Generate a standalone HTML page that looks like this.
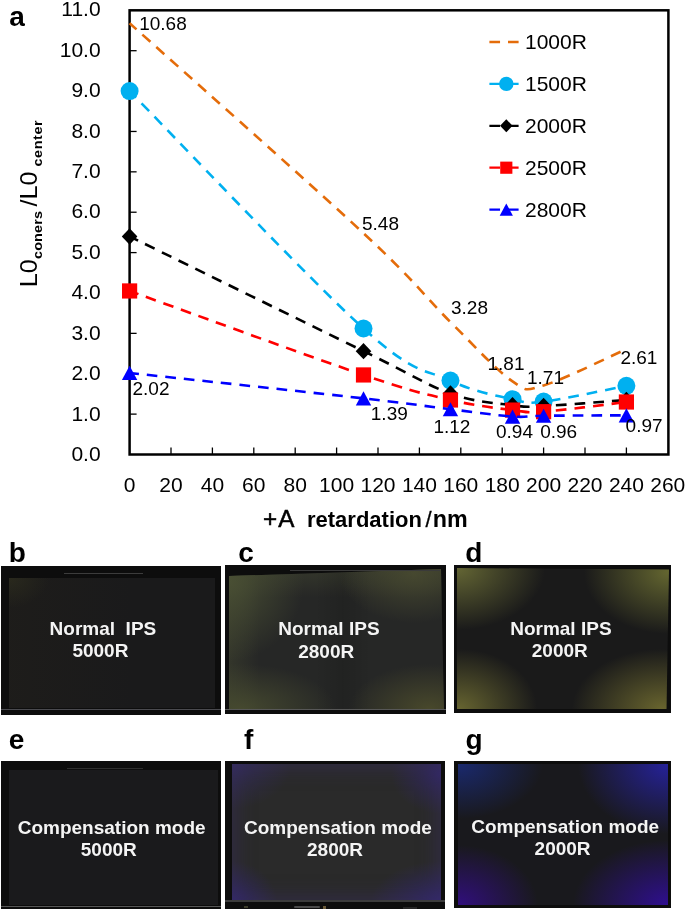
<!DOCTYPE html>
<html><head><meta charset="utf-8"><style>
html,body{margin:0;padding:0;background:#fff;}
body{width:685px;height:909px;position:relative;overflow:hidden;font-family:"Liberation Sans",sans-serif;}
svg{position:absolute;left:0;top:0;z-index:2;will-change:transform;}
svg text{font-family:"Liberation Sans",sans-serif;}
.ph{position:absolute;background:#0d0d0d;overflow:hidden;z-index:1;}
.scr{position:absolute;}
.hl{position:absolute;}

#sb{left:8px;top:12px;width:206px;height:130px;background:radial-gradient(ellipse 40px 30px at 0px 0px, rgba(46,46,30,.7), rgba(46,46,30,0)), linear-gradient(90deg, rgba(32,30,26,.6), rgba(32,30,26,0) 60%), #1a1a1b;}
#sc{left:4px;top:4px;width:215px;height:140px;clip-path:polygon(0 7px,212px 0,215px 140px,0 140px);
 background:
  radial-gradient(ellipse 75px 80px at 0px 12px, rgba(74,80,52,.95), rgba(74,80,52,0)),
  radial-gradient(ellipse 75px 50px at 185px 4px, rgba(72,74,48,.9), rgba(72,74,48,0)),
  radial-gradient(ellipse 95px 45px at 12px 140px, rgba(72,76,48,.9), rgba(72,76,48,0)),
  radial-gradient(ellipse 80px 45px at 200px 140px, rgba(76,76,44,.9), rgba(76,76,44,0)),
  linear-gradient(90deg, rgba(0,0,0,0) 40%, rgba(0,0,0,.12) 53%, rgba(0,0,0,0) 66%),
  linear-gradient(180deg, rgba(70,74,50,.45) 0px, rgba(70,74,50,0) 28px),
  linear-gradient(90deg, rgba(72,76,50,.4) 0px, rgba(72,76,50,0) 30px),
  #262726;}
#sd{left:2.5px;top:3px;width:213px;height:141px;clip-path:polygon(0 0,212.5px 1.5px,210px 141px,0 141px);
 background:
  radial-gradient(ellipse 88px 62px at 0px 0px, rgba(100,102,52,1), rgba(100,102,52,0)),
  radial-gradient(ellipse 85px 62px at 212px 4px, rgba(100,102,48,1), rgba(100,102,48,0)),
  radial-gradient(ellipse 78px 60px at 2px 141px, rgba(102,100,48,1), rgba(102,100,48,0)),
  radial-gradient(ellipse 90px 60px at 205px 141px, rgba(104,100,46,1), rgba(104,100,46,0)),
  #1a1a1a;}
#se{left:8px;top:9px;width:209px;height:135px;background:#1a1a1c;}
#sf{left:7px;top:3px;width:209px;height:137px;
 box-shadow: inset 0 0 22px rgba(58,46,112,.55);
 background:
  radial-gradient(ellipse 60px 45px at 0px 0px, rgba(52,44,100,.7), rgba(52,44,100,0)),
  radial-gradient(ellipse 50px 40px at 209px 10px, rgba(50,38,110,.75), rgba(50,38,110,0)),
  radial-gradient(ellipse 45px 40px at 0px 137px, rgba(50,38,115,.75), rgba(50,38,115,0)),
  radial-gradient(ellipse 70px 40px at 209px 137px, rgba(50,38,115,.8), rgba(50,38,115,0)),
  #2a2a2a;}
#sg{left:4px;top:2.5px;width:210px;height:141px;
 background:
  radial-gradient(ellipse 85px 55px at 0px 0px, rgba(26,42,115,.95), rgba(26,42,115,0)),
  radial-gradient(ellipse 90px 70px at 210px 0px, rgba(38,34,160,.95), rgba(38,34,160,0)),
  radial-gradient(ellipse 80px 60px at 0px 141px, rgba(50,14,130,.95), rgba(50,14,130,0)),
  radial-gradient(ellipse 95px 65px at 210px 141px, rgba(48,14,150,.95), rgba(48,14,150,0)),
  #19191d;}

</style></head><body>

<div class="ph" style="left:1px;top:566px;width:220px;height:149px;">
  <div class="scr" id="sb"></div>
  <div class="hl" style="left:0;top:143px;width:220px;height:1.3px;background:#5a5a60;opacity:.8"></div>
  <div class="hl" style="left:63px;top:7.3px;width:79px;height:1px;background:#3c3c3c;"></div>
</div>
<div class="ph" style="left:225px;top:565px;width:221px;height:149px;">
  <div class="scr" id="sc"></div>
  <div class="hl" style="left:0;top:144px;width:221px;height:1.3px;background:#6a6a6a;opacity:.8"></div>
  <div class="hl" style="left:65px;top:5px;width:150px;height:1px;background:#3a3a3a;"></div>
</div>
<div class="ph" style="left:454px;top:565px;width:217px;height:148px;">
  <div class="scr" id="sd"></div>
</div>
<div class="ph" style="left:1px;top:760.5px;width:220px;height:148.5px;">
  <div class="scr" id="se"></div>
  <div class="hl" style="left:0;top:145px;width:220px;height:1.3px;background:#6a6a6a;opacity:.8"></div>
  <div class="hl" style="left:66px;top:7px;width:76px;height:1px;background:#2e2e2e;"></div>
</div>
<div class="ph" style="left:225px;top:760.5px;width:220px;height:148.5px;">
  <div class="scr" id="sf"></div>
  <div class="hl" style="left:0;top:139.5px;width:220px;height:1.5px;background:#3c3c3c;"></div>
  <div class="hl" style="left:69px;top:145.5px;width:26px;height:2px;background:#4a4a4a;border-radius:1px"></div>
  <div class="hl" style="left:98px;top:145px;width:3px;height:3px;background:#6a5a38;"></div>
  <div class="hl" style="left:19px;top:145.5px;width:4px;height:2px;background:#3e3e2c;"></div>
  <div class="hl" style="left:178px;top:146px;width:14px;height:2px;background:#262626;"></div>
</div>
<div class="ph" style="left:454px;top:761px;width:217px;height:147px;">
  <div class="scr" id="sg"></div>
</div>

<svg width="685" height="909" viewBox="0 0 685 909">
<g stroke="#000" fill="none">
<line x1="129.60" y1="414.12" x2="136.60" y2="414.12" stroke-width="1.3"/>
<line x1="129.60" y1="373.74" x2="136.60" y2="373.74" stroke-width="1.3"/>
<line x1="129.60" y1="333.36" x2="136.60" y2="333.36" stroke-width="1.3"/>
<line x1="129.60" y1="292.98" x2="136.60" y2="292.98" stroke-width="1.3"/>
<line x1="129.60" y1="252.60" x2="136.60" y2="252.60" stroke-width="1.3"/>
<line x1="129.60" y1="212.22" x2="136.60" y2="212.22" stroke-width="1.3"/>
<line x1="129.60" y1="171.84" x2="136.60" y2="171.84" stroke-width="1.3"/>
<line x1="129.60" y1="131.46" x2="136.60" y2="131.46" stroke-width="1.3"/>
<line x1="129.60" y1="91.08" x2="136.60" y2="91.08" stroke-width="1.3"/>
<line x1="129.60" y1="50.70" x2="136.60" y2="50.70" stroke-width="1.3"/>
<line x1="171.00" y1="454.50" x2="171.00" y2="447.50" stroke-width="1.3"/>
<line x1="212.40" y1="454.50" x2="212.40" y2="447.50" stroke-width="1.3"/>
<line x1="253.80" y1="454.50" x2="253.80" y2="447.50" stroke-width="1.3"/>
<line x1="295.20" y1="454.50" x2="295.20" y2="447.50" stroke-width="1.3"/>
<line x1="336.60" y1="454.50" x2="336.60" y2="447.50" stroke-width="1.3"/>
<line x1="378.00" y1="454.50" x2="378.00" y2="447.50" stroke-width="1.3"/>
<line x1="419.40" y1="454.50" x2="419.40" y2="447.50" stroke-width="1.3"/>
<line x1="460.80" y1="454.50" x2="460.80" y2="447.50" stroke-width="1.3"/>
<line x1="502.20" y1="454.50" x2="502.20" y2="447.50" stroke-width="1.3"/>
<line x1="543.60" y1="454.50" x2="543.60" y2="447.50" stroke-width="1.3"/>
<line x1="585.00" y1="454.50" x2="585.00" y2="447.50" stroke-width="1.3"/>
<line x1="626.40" y1="454.50" x2="626.40" y2="447.50" stroke-width="1.3"/>
<rect x="129.60" y="10.32" width="538.80" height="444.18" stroke-width="2.5"/>
</g>
<g font-size="21" fill="#000" text-anchor="end">
<text x="100.6" y="461.30">0.0</text>
<text x="100.6" y="420.83">1.0</text>
<text x="100.6" y="380.36">2.0</text>
<text x="100.6" y="339.89">3.0</text>
<text x="100.6" y="299.42">4.0</text>
<text x="100.6" y="258.95">5.0</text>
<text x="100.6" y="218.48">6.0</text>
<text x="100.6" y="178.01">7.0</text>
<text x="100.6" y="137.54">8.0</text>
<text x="100.6" y="97.07">9.0</text>
<text x="100.6" y="56.60">10.0</text>
<text x="100.6" y="16.13">11.0</text>
</g>
<g font-size="21" fill="#000" text-anchor="middle">
<text x="129.60" y="492.4">0</text>
<text x="171.00" y="492.4">20</text>
<text x="212.40" y="492.4">40</text>
<text x="253.80" y="492.4">60</text>
<text x="295.20" y="492.4">80</text>
<text x="336.60" y="492.4">100</text>
<text x="378.00" y="492.4">120</text>
<text x="419.40" y="492.4">140</text>
<text x="460.80" y="492.4">160</text>
<text x="502.20" y="492.4">180</text>
<text x="543.60" y="492.4">200</text>
<text x="585.00" y="492.4">220</text>
<text x="626.40" y="492.4">240</text>
<text x="667.80" y="492.4">260</text>
</g>
<path d="M129.60,23.24 C168.58,58.24 310.04,183.42 363.51,233.22 C416.98,283.02 425.61,297.35 450.45,322.05 C475.29,346.75 497.02,370.85 512.55,381.41 C528.07,391.98 524.62,390.83 543.60,385.45 C562.57,380.07 612.60,355.17 626.40,349.11" fill="none" stroke="#E46C0A" stroke-width="2.60" stroke-dasharray="10.64 7.98" stroke-dashoffset="1.2"/>
<path d="M129.60,91.08 C168.58,130.65 310.04,280.26 363.51,328.51 C416.98,376.77 425.61,368.83 450.45,380.60 C475.29,392.38 497.02,395.68 512.55,399.18 C528.07,402.68 524.62,403.82 543.60,401.60 C562.57,399.38 612.60,388.48 626.40,385.85" fill="none" stroke="#00B0F0" stroke-width="2.60" stroke-dasharray="10.64 7.98" stroke-dashoffset="1.2"/>
<circle cx="129.60" cy="91.08" r="9.00" fill="#00B0F0"/>
<circle cx="363.51" cy="328.51" r="9.00" fill="#00B0F0"/>
<circle cx="450.45" cy="380.60" r="9.00" fill="#00B0F0"/>
<circle cx="512.55" cy="399.18" r="9.00" fill="#00B0F0"/>
<circle cx="543.60" cy="401.60" r="9.00" fill="#00B0F0"/>
<circle cx="626.40" cy="385.85" r="9.00" fill="#00B0F0"/>
<path d="M129.60,236.45 C168.58,255.56 310.04,324.95 363.51,351.13 C416.98,377.31 425.61,384.51 450.45,393.53 C475.29,402.54 497.02,403.15 512.55,405.24 C528.07,407.32 524.62,406.92 543.60,406.04 C562.57,405.17 612.60,401.00 626.40,399.99" fill="none" stroke="#000000" stroke-width="2.60" stroke-dasharray="10.64 7.98" stroke-dashoffset="1.2"/>
<polygon points="129.60,228.25 137.40,236.45 129.60,244.65 121.80,236.45" fill="#000000"/>
<polygon points="363.51,342.93 371.31,351.13 363.51,359.33 355.71,351.13" fill="#000000"/>
<polygon points="450.45,385.33 458.25,393.53 450.45,401.73 442.65,393.53" fill="#000000"/>
<polygon points="512.55,397.04 520.35,405.24 512.55,413.44 504.75,405.24" fill="#000000"/>
<polygon points="543.60,397.84 551.40,406.04 543.60,414.24 535.80,406.04" fill="#000000"/>
<polygon points="626.40,391.79 634.20,399.99 626.40,408.19 618.60,399.99" fill="#000000"/>
<path d="M129.60,290.96 C168.58,304.96 310.04,356.78 363.51,374.95 C416.98,393.12 425.61,394.13 450.45,399.99 C475.29,405.84 497.02,408.13 512.55,410.08 C528.07,412.03 524.62,413.04 543.60,411.70 C562.57,410.35 612.60,403.62 626.40,402.01" fill="none" stroke="#FF0000" stroke-width="2.60" stroke-dasharray="10.64 7.98" stroke-dashoffset="1.2"/>
<rect x="122.00" y="283.36" width="15.20" height="15.20" fill="#FF0000"/>
<rect x="355.91" y="367.35" width="15.20" height="15.20" fill="#FF0000"/>
<rect x="442.85" y="392.39" width="15.20" height="15.20" fill="#FF0000"/>
<rect x="504.95" y="402.48" width="15.20" height="15.20" fill="#FF0000"/>
<rect x="536.00" y="404.10" width="15.20" height="15.20" fill="#FF0000"/>
<rect x="618.80" y="394.41" width="15.20" height="15.20" fill="#FF0000"/>
<path d="M129.60,372.93 C168.58,377.17 310.04,392.31 363.51,398.37 C416.98,404.43 425.61,406.25 450.45,409.27 C475.29,412.30 497.02,415.47 512.55,416.54 C528.07,417.62 524.62,415.94 543.60,415.74 C562.57,415.53 612.60,415.40 626.40,415.33" fill="none" stroke="#0000FF" stroke-width="2.60" stroke-dasharray="10.64 7.98" stroke-dashoffset="1.2"/>
<polygon points="129.60,365.83 137.30,380.03 121.90,380.03" fill="#0000FF"/>
<polygon points="363.51,391.27 371.21,405.47 355.81,405.47" fill="#0000FF"/>
<polygon points="450.45,402.17 458.15,416.37 442.75,416.37" fill="#0000FF"/>
<polygon points="512.55,409.44 520.25,423.64 504.85,423.64" fill="#0000FF"/>
<polygon points="543.60,408.64 551.30,422.84 535.90,422.84" fill="#0000FF"/>
<polygon points="626.40,408.23 634.10,422.43 618.70,422.43" fill="#0000FF"/>
<g font-size="19" fill="#000">
<text x="139.20" y="29.90">10.68</text>
<text x="362.00" y="230.00">5.48</text>
<text x="451.00" y="314.00">3.28</text>
<text x="487.50" y="369.90">1.81</text>
<text x="527.00" y="383.50">1.71</text>
<text x="620.40" y="363.60">2.61</text>
<text x="132.50" y="395.30">2.02</text>
<text x="370.80" y="420.00">1.39</text>
<text x="433.40" y="433.00">1.12</text>
<text x="496.00" y="438.00">0.94</text>
<text x="540.20" y="437.70">0.96</text>
<text x="625.60" y="432.00">0.97</text>
</g>
<line x1="489.4" y1="42.00" x2="518.6" y2="42.00" stroke="#E46C0A" stroke-width="2.3" stroke-dasharray="10.64 7.98"/>
<text x="525" y="49.30" font-size="21">1000R</text>
<line x1="489.4" y1="83.90" x2="518.6" y2="83.90" stroke="#00B0F0" stroke-width="2.3" stroke-dasharray="10.64 7.98"/>
<circle cx="506.30" cy="83.90" r="7.20" fill="#00B0F0"/>
<text x="525" y="91.20" font-size="21">1500R</text>
<line x1="489.4" y1="125.80" x2="518.6" y2="125.80" stroke="#000000" stroke-width="2.3" stroke-dasharray="10.64 7.98"/>
<polygon points="506.30,119.24 512.54,125.80 506.30,132.36 500.06,125.80" fill="#000000"/>
<text x="525" y="133.10" font-size="21">2000R</text>
<line x1="489.4" y1="167.70" x2="518.6" y2="167.70" stroke="#FF0000" stroke-width="2.3" stroke-dasharray="10.64 7.98"/>
<rect x="500.22" y="161.62" width="12.16" height="12.16" fill="#FF0000"/>
<text x="525" y="175.00" font-size="21">2500R</text>
<line x1="489.4" y1="209.60" x2="518.6" y2="209.60" stroke="#0000FF" stroke-width="2.3" stroke-dasharray="10.64 7.98"/>
<polygon points="506.30,203.49 512.92,215.71 499.68,215.71" fill="#0000FF"/>
<text x="525" y="216.90" font-size="21">2800R</text>
<text x="9.3" y="25.5" font-size="28" font-weight="bold">a</text>
<text x="263.0" y="527" font-size="24.2" stroke="#000" stroke-width="0.55" letter-spacing="1.0">+A</text>
<text x="307.0" y="527" font-size="22" font-weight="bold">retardation</text>
<text x="425.6" y="526.6" font-size="22" stroke="#000" stroke-width="0.3">/</text>
<text x="432.8" y="527" font-size="23.3" font-weight="bold">nm</text>
<g transform="translate(37.2,287.2) rotate(-90) scale(1.08,1)"><text x="0" y="0" font-size="23.3">L0</text><text x="26.16" y="5" font-size="13.3" font-weight="bold" letter-spacing="0.15">coners</text><text x="74.8" y="0" font-size="23.3">/L0</text><text x="111.8" y="5" font-size="13.3" font-weight="bold" letter-spacing="0.55">center</text></g>
<text x="8.8" y="561.5" font-size="28" font-weight="bold">b</text>
<text x="238.2" y="561.5" font-size="28" font-weight="bold">c</text>
<text x="465.2" y="561.5" font-size="28" font-weight="bold">d</text>
<text x="8.7" y="748.5" font-size="28" font-weight="bold">e</text>
<text x="244.1" y="748.5" font-size="28" font-weight="bold">f</text>
<text x="465.5" y="748.5" font-size="28" font-weight="bold">g</text>
<g font-size="19" font-weight="bold" fill="#f4f4f4">
<text x="49.6" y="635.2">Normal  IPS</text>
<text x="72.4" y="657.4">5000R</text>
<text x="278.2" y="635.0">Normal IPS</text>
<text x="298.2" y="658.0">2800R</text>
<text x="510.2" y="635.0">Normal IPS</text>
<text x="531.8" y="657.0">2000R</text>
<text x="17.7" y="834.0">Compensation mode</text>
<text x="80.8" y="856.0">5000R</text>
<text x="244.0" y="834.0">Compensation mode</text>
<text x="307.0" y="856.0">2800R</text>
<text x="471.2" y="833.0">Compensation mode</text>
<text x="534.6" y="855.0">2000R</text>
</g>
</svg>
</body></html>
